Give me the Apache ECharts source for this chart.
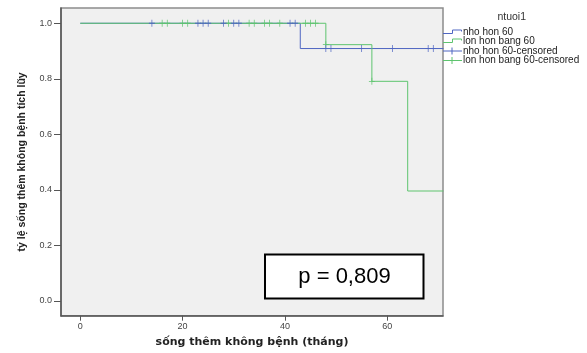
<!DOCTYPE html>
<html><head><meta charset="utf-8">
<script src="https://cdn.jsdelivr.net/npm/echarts@6/dist/echarts.min.js"></script>
<style>html,body{margin:0;padding:0;background:#fff}#c{width:587px;height:353px}</style>
</head><body><div id="c"></div>
<script>
// ---- data ----
const xTicks = [0, 20, 40, 60];
const yTicks = [0, 0.2, 0.4, 0.6, 0.8, 1.0];
const xTitle = 'sống thêm không bệnh (tháng)';
const yTitle = 'tỷ lệ sống thêm không bệnh tích lũy';
const legendTitle = 'ntuoi1';
const blueName = 'nho hon 60';
const greenName = 'lon hon bang 60';
const blueCensName = 'nho hon 60-censored';
const greenCensName = 'lon hon bang 60-censored';
const blueTimes = [0, 43, 71];
const blueSurv = [1.0, 0.909, 0.909];
const greenTimes = [0, 48, 57, 64, 71];
const greenSurv = [1.0, 0.923, 0.791, 0.396, 0.396];
const blueCensTimes = [14, 23, 24, 25, 28, 30, 31, 41, 42, 48, 49, 55, 61, 68, 69];
const blueCensSurv = [1, 1, 1, 1, 1, 1, 1, 1, 1, 0.909, 0.909, 0.909, 0.909, 0.909, 0.909];
const greenCensTimes = [16, 17, 20, 21, 29, 33, 34, 36, 37, 39, 44, 45, 46, 48, 57];
const greenCensSurv = [1, 1, 1, 1, 1, 1, 1, 1, 1, 1, 1, 1, 1, 0.923, 0.791];
const pValueText = 'p = 0,809';

// ---- styles ----
const BLUE = '#4f66c2', GREEN = '#5ec46f';
const zip = (a, b) => a.map((v, i) => [v, b[i]]);
const plusPath = 'path://M4.4,0H5.6V4.4H10V5.6H5.6V10H4.4V5.6H0V4.4H4.4Z';

const chart = echarts.init(document.getElementById('c'), null, {renderer: 'canvas'});

function legendGraphics() {
  const g = [];
  g.push({type: 'text', x: 511.7, y: 17.5, style: {text: legendTitle, align: 'center', verticalAlign: 'middle', font: '10.5px "Liberation Sans", Arial, sans-serif', fill: '#333'}});
  const rows = [
    {name: blueName, color: BLUE, kind: 'step', y: 32.5},
    {name: greenName, color: GREEN, kind: 'step', y: 41.5},
    {name: blueCensName, color: BLUE, kind: 'cens', y: 51},
    {name: greenCensName, color: GREEN, kind: 'cens', y: 60.5}
  ];
  rows.forEach(r => {
    if (r.kind === 'step') {
      g.push({type: 'polyline', shape: {points: [[443, r.y + 1], [452.5, r.y + 1], [452.5, r.y - 2.5], [461.5, r.y - 2.5], [461.5, r.y - 1]]}, style: {stroke: r.color, lineWidth: 1, fill: null}});
    } else {
      g.push({type: 'line', shape: {x1: 443, y1: r.y, x2: 462, y2: r.y}, style: {stroke: r.color, lineWidth: 1}});
      g.push({type: 'line', shape: {x1: 452, y1: r.y - 3.5, x2: 452, y2: r.y + 3.5}, style: {stroke: r.color, lineWidth: 1}});
    }
    g.push({type: 'text', x: 463, y: r.y, style: {text: r.name, align: 'left', verticalAlign: 'middle', font: '10px "Liberation Sans", Arial, sans-serif', fill: '#222'}});
  });
  return g;
}

const option = {
  animation: false,
  backgroundColor: '#ffffff',
  grid: {left: 61, top: 8, width: 382, height: 307.7, show: true, backgroundColor: '#f0f0f0', borderColor: '#8c8c8c', borderWidth: 1.5},
  xAxis: {
    type: 'value', min: -3.77, max: 70.9,
    name: xTitle, nameLocation: 'middle', nameGap: 21,
    nameTextStyle: {fontFamily: 'DejaVu Sans', fontWeight: 'bold', fontSize: 11, color: '#222'},
    axisLine: {show: true, onZero: false, lineStyle: {color: '#555', width: 1.5}},
    axisTick: {show: true, length: 5, lineStyle: {color: '#555'}, customValues: xTicks},
    axisLabel: {show: true, margin: 6, fontSize: 9, color: '#444', fontFamily: 'Liberation Sans', customValues: xTicks, formatter: v => String(v)},
    splitLine: {show: false}
  },
  yAxis: {
    type: 'value', min: -0.053, max: 1.055,
    name: yTitle, nameLocation: 'middle', nameGap: 33, nameRotate: 90,
    nameTextStyle: {fontFamily: 'Liberation Sans', fontWeight: 'bold', fontSize: 10.5, color: '#222'},
    axisLine: {show: true, onZero: false, lineStyle: {color: '#555', width: 1.5}},
    axisTick: {show: true, length: 7, lineStyle: {color: '#555'}, customValues: yTicks},
    axisLabel: {show: true, margin: 9, fontSize: 9, color: '#444', fontFamily: 'Liberation Sans', customValues: yTicks, formatter: v => Number(v).toFixed(1)},
    splitLine: {show: false}
  },
  series: [
    {name: blueName, type: 'line', step: 'end', data: zip(blueTimes, blueSurv), showSymbol: false, lineStyle: {color: BLUE, width: 1}, itemStyle: {color: BLUE}, z: 2},
    {name: greenName, type: 'line', step: 'end', data: zip(greenTimes, greenSurv), showSymbol: false, lineStyle: {color: GREEN, width: 1}, itemStyle: {color: GREEN}, z: 3},
    {name: greenCensName, type: 'scatter', data: zip(greenCensTimes, greenCensSurv), symbol: plusPath, symbolSize: [6, 7], itemStyle: {color: GREEN, opacity: 1}, z: 4},
    {name: blueCensName, type: 'scatter', data: zip(blueCensTimes, blueCensSurv), symbol: plusPath, symbolSize: [6, 7], itemStyle: {color: BLUE, opacity: 1}, z: 5}
  ],
  graphic: [
    {type: 'rect', shape: {x: 265, y: 254.5, width: 158.5, height: 44}, style: {fill: '#ffffff', stroke: '#000', lineWidth: 2}, z: 100},
    {type: 'text', x: 344.5, y: 277, style: {text: pValueText, align: 'center', verticalAlign: 'middle', font: '22px "Liberation Sans", Arial, sans-serif', fill: '#000'}, z: 101}
  ].concat(legendGraphics())
};
chart.setOption(option);
</script>
</body></html>
